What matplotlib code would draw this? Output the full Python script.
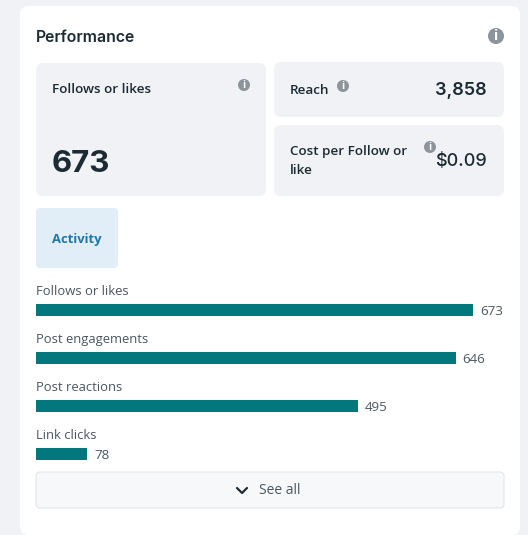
#!/usr/bin/env python3
"""
Performance card with the activity bars
"""

import matplotlib
matplotlib.use("Agg")
import matplotlib.pyplot as plt
from matplotlib.patches import Circle, FancyBboxPatch

# Chart values
activity_labels = ["Follows or likes", "Post engagements", "Post reactions", "Link clicks"]
activity_values = [673, 646, 495, 78]
activity_value_labels = ["673", "646", "495", "78"]

card_title = "Performance"
tab_label = "Activity"
button_label = "See all"
follows_label = "Follows or likes"
follows_value = "673"
reach_label = "Reach"
reach_value = "3,858"
cost_label = "Cost per Follow or\nlike"
cost_value = "$0.09"

BG = "#f0f2f5"
PANEL = "#f0f2f5"
TEAL = "#02777c"
DARK = "#1c2b33"
TEXT = "#4b565e"
ICON = "#8d949b"

W, H = 528, 535

plt.rcParams["font.family"] = ["Open Sans", "DejaVu Sans"]

fig = plt.figure(figsize=(W / 100, H / 100), dpi=100, facecolor=BG)

# overlay in pixel coordinates for the panels and texts
ui = fig.add_axes([0, 0, 1, 1])
ui.set_xlim(0, W)
ui.set_ylim(H, 0)
ui.axis("off")


def panel(x0, y0, x1, y1, color, radius=7, edge="none", zorder=1):
    ui.add_patch(FancyBboxPatch(
        (x0 + radius, y0 + radius), x1 - x0 - 2 * radius, y1 - y0 - 2 * radius,
        boxstyle=f"round,pad={radius},rounding_size={radius}",
        facecolor=color, edgecolor=edge, linewidth=0.8, zorder=zorder))


def info_icon(x, y, r):
    ui.add_patch(Circle((x, y), r, facecolor=ICON, edgecolor="none", zorder=3))
    ui.text(x, y + 0.2, "i", color="white", fontsize=r * 1.25, fontweight="bold",
            ha="center", va="center", zorder=4)


panel(20, 6, 520, 535, "white", radius=9)
panel(36, 63, 266, 196, PANEL)
panel(274, 62, 504, 117, PANEL)
panel(274, 125, 504, 196, PANEL)
panel(36, 208, 118, 268, "#e1edf7", radius=4)
panel(36, 472, 504, 508, "#f7f8fa", radius=4, edge="#e2e5e9")

ui.text(36, 38, card_title, color=DARK, fontsize=11.4, fontweight="semibold",
        family=["Inter", "DejaVu Sans"], va="center")
info_icon(496, 36, 8)

ui.text(52, 89.5, follows_label, color=DARK, fontsize=9.7, fontweight="semibold", va="center")
info_icon(244, 85, 6)
ui.text(52, 163.5, follows_value, color=DARK, fontsize=22.5, fontweight="bold",
        family=["Inter", "DejaVu Sans"], va="center")

ui.text(290, 90, reach_label, color=DARK, fontsize=9.7, fontweight="semibold", va="center")
info_icon(343, 86, 6)
ui.text(487, 90.5, reach_value, color=DARK, fontsize=13, fontweight="semibold",
        family=["Inter", "DejaVu Sans"], ha="right", va="center")

ui.text(290, 161, cost_label, color=DARK, fontsize=9.7, fontweight="semibold",
        va="center", linespacing=1.6)
info_icon(430, 147, 6)
ui.text(487, 161.5, cost_value, color=DARK, fontsize=13, fontweight="medium",
        family=["Inter", "DejaVu Sans"], ha="right", va="center")

ui.text(77, 239, tab_label, color="#1a78ac", fontsize=9.4, fontweight="bold", ha="center", va="center")

# bar axes, one slot is 48 px tall, first bar centred just under y=310
bar_ax = fig.add_axes([35.8 / W, 1 - (309.4 + 3.5 * 48) / H, 436.4 / W, 4 * 48 / H], zorder=2)
bar_ax.patch.set_alpha(0)
bar_ax.axis("off")
bar_ax.set_xlim(0, max(activity_values))
bar_ax.set_ylim(3.5, -0.5)
positions = list(range(len(activity_values)))
bars = bar_ax.barh(positions, activity_values, height=11 / 48, color=TEAL,
                   edgecolor=TEAL, linewidth=0.72)
for bar in bars:
    bar.set_joinstyle("round")
    bar.set_clip_on(False)

for pos, value, value_label, label in zip(positions, activity_values, activity_value_labels, activity_labels):
    bar_ax.annotate(value_label, (value, pos), xytext=(5.5, -1.4), textcoords="offset points",
                    color=TEXT, fontsize=9.6, va="center", annotation_clip=False)
    bar_ax.annotate(label, (0, pos), xytext=(0, 12.7), textcoords="offset points",
                    color=TEXT, fontsize=9.4, va="center", annotation_clip=False)

# chevron of the button
ui.plot([237, 242, 247], [488, 493, 488], color=DARK, lw=1.6, solid_capstyle="round",
        solid_joinstyle="round", zorder=3)
ui.text(259, 490.5, button_label, color=TEXT, fontsize=10, va="center", zorder=3)

fig.savefig("out.png", dpi=100, facecolor=BG)
